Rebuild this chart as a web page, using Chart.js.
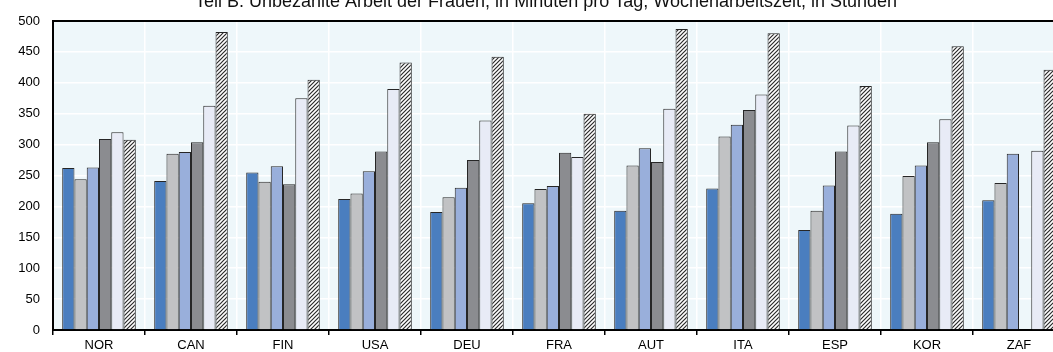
<!DOCTYPE html>
<html>
<head>
<meta charset="utf-8">
<script src="https://cdn.jsdelivr.net/npm/chart.js@4.4.1/dist/chart.umd.min.js"></script>
<style>
  html, body { margin: 0; padding: 0; overflow: hidden; background: #ffffff; }
  #wrap { position: absolute; left: 0; top: 0; width: 1066px; height: 352px; }
</style>
</head>
<body>
<div id="wrap"><canvas id="c" width="1066" height="352"></canvas></div>
<script>
const titleText = "Teil B. Unbezahlte Arbeit der Frauen, in Minuten pro Tag, Wochenarbeitszeit, in Stunden";
const categories = ["NOR", "CAN", "FIN", "USA", "DEU", "FRA", "AUT", "ITA", "ESP", "KOR", "ZAF"];
const series1 = [262, 241, 255, 212, 191, 205, 193, 229, 162, 188, 210];
const series2 = [244, 285, 240, 221, 215, 228, 266, 313, 193, 249, 238];
const series3 = [263, 288, 265, 257, 230, 233, 294, 332, 234, 266, 285];
const series4 = [309, 304, 236, 289, 275, 287, 272, 356, 289, 304, null];
const series5 = [320, 363, 375, 390, 339, 280, 358, 381, 331, 341, 290];
const series6 = [308, 482, 405, 433, 442, 350, 487, 480, 395, 459, 421];
const yTicks = [0, 50, 100, 150, 200, 250, 300, 350, 400, 450, 500];

function hatch() {
  const t = document.createElement('canvas');
  t.width = 4; t.height = 4;
  const g = t.getContext('2d');
  g.fillStyle = '#ffffff';
  g.fillRect(0, 0, 4, 4);
  g.strokeStyle = '#2a2a2a';
  g.lineWidth = 1.2;
  g.beginPath();
  g.moveTo(-1, 5); g.lineTo(5, -1);
  g.moveTo(-1, 1); g.lineTo(1, -1);
  g.moveTo(3, 5); g.lineTo(5, 3);
  g.stroke();
  return g.createPattern(t, 'repeat');
}

const ctx = document.getElementById('c').getContext('2d');
const border = '#262626';
function ds(label, data, color) {
  return { label, data, backgroundColor: color, borderColor: border, borderWidth: 1,
           borderSkipped: 'start', categoryPercentage: 0.8, barPercentage: 1.0 };
}

const bgPlugin = {
  id: 'bg',
  beforeDraw(chart) {
    const a = chart.chartArea, c = chart.ctx;
    c.save();
    c.fillStyle = '#eef7fa';
    c.fillRect(a.left, a.top, a.right - a.left, a.bottom - a.top);
    c.restore();
  },
  afterDraw(chart) {
    const a = chart.chartArea, c = chart.ctx;
    c.save();
    c.strokeStyle = '#000';
    c.lineWidth = 2;
    c.beginPath();
    c.moveTo(a.left - 1, a.top);
    c.lineTo(a.right + 2, a.top);
    c.stroke();
    c.fillStyle = '#111';
    c.font = '18px "Liberation Sans", Arial, sans-serif';
    c.textAlign = 'center';
    c.textBaseline = 'alphabetic';
    c.fillText(titleText, 546, 7);
    c.restore();
  }
};

new Chart(ctx, {
  type: 'bar',
  data: {
    labels: categories,
    datasets: [
      ds('Serie 1', series1, '#4a7ebf'),
      ds('Serie 2', series2, '#c1c2c4'),
      ds('Serie 3', series3, '#99afdb'),
      ds('Serie 4', series4, '#8b8c90'),
      ds('Serie 5', series5, '#e8ebf6'),
      ds('Serie 6', series6, hatch())
    ]
  },
  options: {
    responsive: false,
    animation: false,
    devicePixelRatio: 1,
    layout: { padding: { top: 21, right: 1, left: 0, bottom: 0 } },
    plugins: { legend: { display: false }, title: { display: false }, tooltip: { enabled: false } },
    scales: {
      x: {
        offset: true,
        grid: { color: '#ffffff', lineWidth: 1.5, drawTicks: true, tickLength: 5, tickColor: '#000', tickWidth: 1.5, offset: true },
        border: { display: true, color: '#000', width: 2 },
        ticks: { color: '#000', font: { family: '"Liberation Sans", Arial, sans-serif', size: 13 }, padding: 3, maxRotation: 0, autoSkip: false },
        afterFit(s) { s.height = 22; }
      },
      y: {
        min: 0, max: 500,
        afterBuildTicks(s) { s.ticks = yTicks.map(v => ({ value: v })); },
        grid: { color: '#ffffff', lineWidth: 1.5, drawTicks: false },
        border: { display: true, color: '#000', width: 2 },
        ticks: { color: '#000', font: { family: '"Liberation Sans", Arial, sans-serif', size: 13 }, padding: 13 },
        afterFit(s) { s.width = 53; }
      }
    }
  },
  plugins: [bgPlugin]
});
</script>
</body>
</html>
